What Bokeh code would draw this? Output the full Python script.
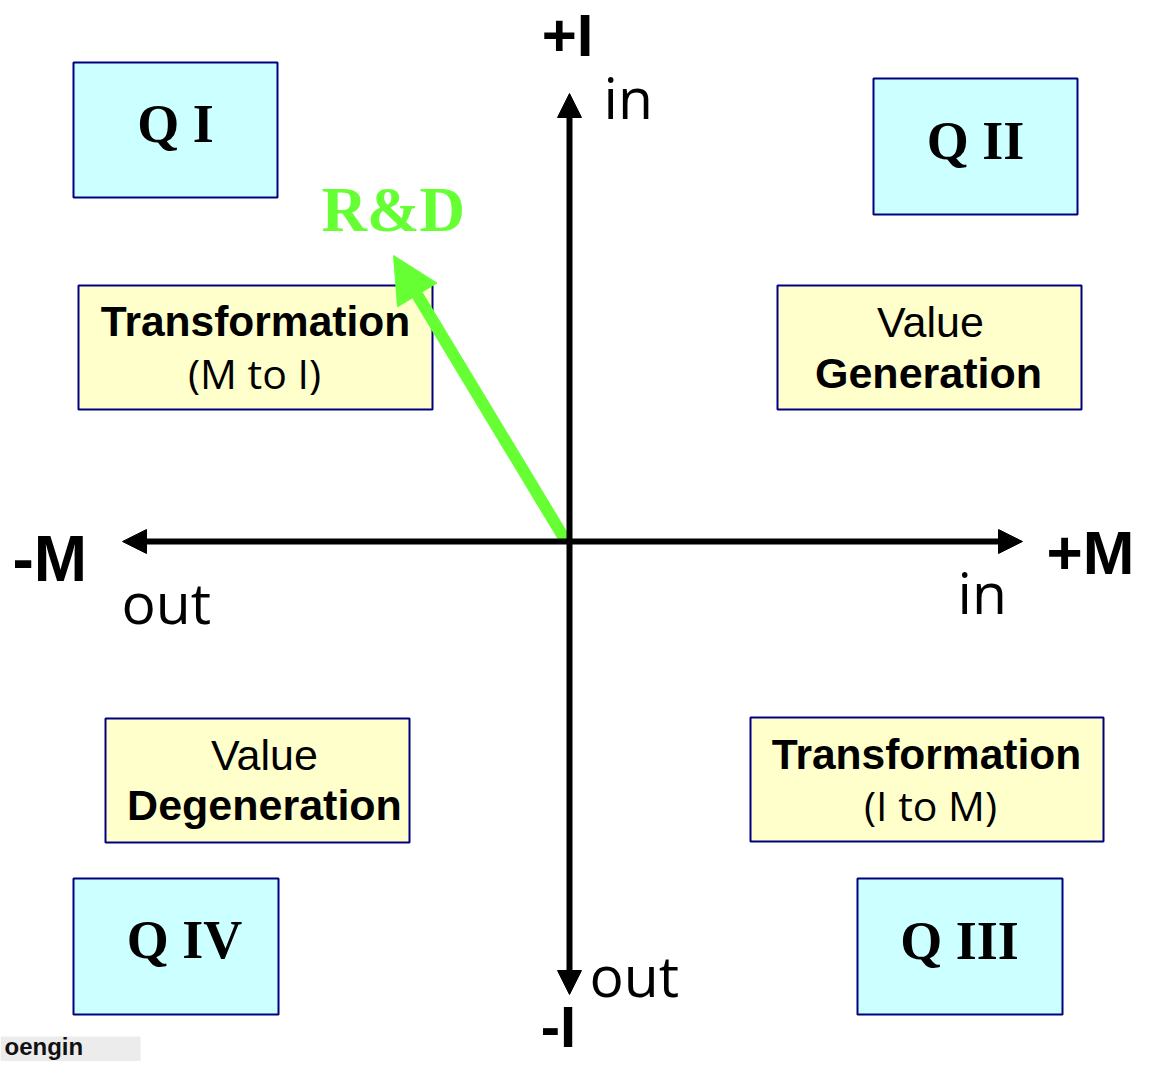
from bokeh.plotting import figure
from bokeh.models import Range1d, Arrow, NormalHead
from bokeh.core.properties import value
from bokeh.embed import file_html
from bokeh.resources import INLINE

# ---------------- content ----------------
quadrant_names = ["Q I", "Q II", "Q III", "Q IV"]
concept_line1 = ["Transformation", "Value", "Transformation", "Value"]
concept_line2 = ["(M to I)", "Generation", "(I to M)", "Degeneration"]
axis_end_labels = ["+I", "-I", "-M", "+M"]
direction_labels = ["in", "out", "out", "in"]   # top, bottom, left, right
vector_label = "R&D"
watermark = "oengin"

# ---------------- layout (picture pixel coordinates) ----------------
W, H = 1137, 1061
K = 0.37  # baseline compensation (fraction of font size) for svg text placement


def base(y, size):
    return y - K * size


# quadrant boxes: left, right, top, bottom ; label centre x, baseline y
q_left = [73, 873, 857, 73]
q_right = [277, 1077, 1062, 278]
q_top = [62, 78, 878, 878]
q_bottom = [197, 214, 1014, 1014]
q_tx = [175, 975, 959, 184]
q_ty = [143, 160, 960, 959]
Q_SIZE = 54

# concept boxes
c_left = [78, 777, 750, 105]
c_right = [432, 1081, 1103, 409]
c_top = [285, 285, 717, 718]
c_bottom = [409, 409, 841, 842]
c_tx1 = [255, 930, 926, 264]
c_ty1 = [337, 337, 770, 770]
c_tx2 = [254, 928, 930, 264]
c_ty2 = [388, 388, 820, 820]
c_style1 = [("Liberation Sans", "bold", 42.5), ("Liberation Sans", "normal", 43),
            ("Liberation Sans", "bold", 42.5), ("Liberation Sans", "normal", 43)]
c_style2 = [("Open Sans", "normal", 41), ("Liberation Sans", "bold", 43),
            ("Open Sans", "normal", 41), ("Liberation Sans", "bold", 43)]

# axis end labels positions
a_x = [567, 558, 12, 1046]
a_y = [57, 1047, 582, 575]
a_align = ["center", "center", "left", "left"]
a_size = [60, 58, 64, 62]

# direction labels
d_x = [603, 589, 121, 957]
d_y = [118, 996, 623, 613]
D_SIZE = 57

CYAN = "#ccffff"
YELLOW = "#ffffcc"
NAVY = "#000080"
GREEN = "#66ff33"

p = figure(width=W, height=H, output_backend="svg", toolbar_location=None,
           x_range=Range1d(0, W), y_range=Range1d(H, 0),
           x_axis_location=None, y_axis_location=None, min_border=0)
p.grid.visible = False
p.outline_line_color = None
p.background_fill_color = "white"
p.border_fill_color = "white"

# watermark strip
p.quad(left=[0], right=[140], top=[1036], bottom=[1061], fill_color="#ececec", line_color=None)
p.text(x=[4], y=[base(1055, 24)], text=[watermark], text_font=value("Liberation Sans"),
       text_font_style="bold", text_font_size="24px", text_color="#111111",
       text_baseline="alphabetic", text_align="left")

# quadrant boxes
p.quad(left=q_left, right=q_right, top=q_top, bottom=q_bottom,
       fill_color=CYAN, line_color=NAVY, line_width=2)
p.text(x=q_tx, y=[base(v, Q_SIZE) for v in q_ty], text=quadrant_names,
       text_font=value("Liberation Serif"), text_font_style="bold",
       text_font_size=f"{Q_SIZE}px", text_color="black",
       text_align="center", text_baseline="alphabetic")

# concept boxes
p.quad(left=c_left, right=c_right, top=c_top, bottom=c_bottom,
       fill_color=YELLOW, line_color=NAVY, line_width=2)
for i in range(len(concept_line1)):
    f1, s1, z1 = c_style1[i]
    f2, s2, z2 = c_style2[i]
    p.text(x=[c_tx1[i]], y=[base(c_ty1[i], z1)], text=[concept_line1[i]], text_font=value(f1),
           text_font_style=s1, text_font_size=f"{z1}px", text_color="black",
           text_align="center", text_baseline="alphabetic")
    p.text(x=[c_tx2[i]], y=[base(c_ty2[i], z2)], text=[concept_line2[i]], text_font=value(f2),
           text_font_style=s2, text_font_size=f"{z2}px", text_color="black",
           text_align="center", text_baseline="alphabetic")

# axis end labels
for i in range(len(axis_end_labels)):
    p.text(x=[a_x[i]], y=[base(a_y[i], a_size[i])], text=[axis_end_labels[i]],
           text_font=value("Liberation Sans"), text_font_style="bold",
           text_font_size=f"{a_size[i]}px", text_color="black",
           text_align=a_align[i], text_baseline="alphabetic")

# direction labels
p.text(x=d_x, y=[base(v, D_SIZE) for v in d_y], text=direction_labels,
       text_font=value("Open Sans"), text_font_size=f"{D_SIZE}px", text_color="black",
       text_align="left", text_baseline="alphabetic")

# R&D vector
p.text(x=[321], y=[base(233, 63)], text=[vector_label], text_font=value("Liberation Serif"),
       text_font_style="bold", text_font_size="63px", text_color=GREEN,
       text_align="left", text_baseline="alphabetic")
p.add_layout(Arrow(x_start=565, y_start=540, x_end=393, y_end=255,
                   line_color=GREEN, line_width=12,
                   end=NormalHead(size=46, fill_color=GREEN, line_color=GREEN, line_width=1)))

# axes arrows
p.add_layout(Arrow(x_start=122, y_start=541, x_end=1022, y_end=541,
                   line_color="black", line_width=6,
                   start=NormalHead(size=24, fill_color="black", line_color="black", line_width=1),
                   end=NormalHead(size=24, fill_color="black", line_color="black", line_width=1)))
p.add_layout(Arrow(x_start=569, y_start=994, x_end=569, y_end=93,
                   line_color="black", line_width=6,
                   start=NormalHead(size=24, fill_color="black", line_color="black", line_width=1),
                   end=NormalHead(size=24, fill_color="black", line_color="black", line_width=1)))

open("out.html", "w").write(file_html(p, INLINE))
